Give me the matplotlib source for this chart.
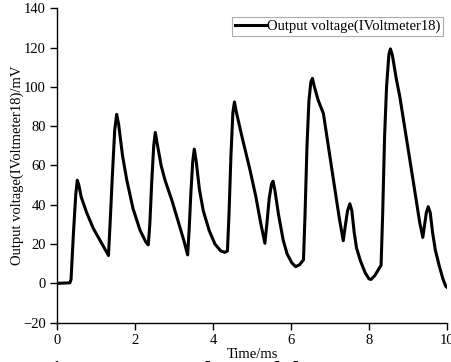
import matplotlib
matplotlib.use("Agg")
import matplotlib.pyplot as plt

plt.rcParams['font.family'] = ['Liberation Serif', 'DejaVu Serif']

time_ms = [0.0, 0.33, 0.36, 0.42, 0.48, 0.52, 0.56, 0.62, 0.76, 0.93, 1.1, 1.32,
           1.36, 1.42, 1.48, 1.53, 1.58, 1.68, 1.79, 1.95, 2.13, 2.28, 2.34,
           2.38, 2.43, 2.48, 2.52, 2.57, 2.67, 2.77, 2.95, 3.1, 3.25, 3.35,
           3.39, 3.43, 3.48, 3.52, 3.57, 3.65, 3.75, 3.9, 4.05, 4.2, 4.3, 4.37,
           4.41, 4.46, 4.51, 4.55, 4.6, 4.75, 4.95, 5.1, 5.22, 5.33,
           5.38, 5.44, 5.5, 5.54, 5.59, 5.68, 5.8, 5.9, 6.02, 6.12, 6.22, 6.32,
           6.36, 6.41, 6.46, 6.51, 6.55, 6.6, 6.7, 6.83, 7.09, 7.24, 7.34,
           7.39, 7.45, 7.51, 7.56, 7.62, 7.68, 7.78, 7.9, 8.0, 8.05, 8.15, 8.31,
           8.35, 8.4, 8.45, 8.51, 8.55, 8.6, 8.7, 8.79, 8.95, 9.13, 9.3, 9.38,
           9.42, 9.47, 9.52, 9.57, 9.63, 9.7, 9.8, 9.9, 9.97, 10.0]
voltage_mv = [0.0, 0.3, 2.0, 25.0, 45.0, 52.5, 50.0, 44.0, 36.0, 28.0, 22.0, 14.2,
              30.0, 55.0, 78.0, 86.0, 81.0, 65.0, 52.5, 38.0, 27.0, 21.0, 19.6,
              30.0, 52.0, 70.0, 76.8, 71.0, 60.0, 52.5, 42.0, 32.0, 22.0, 14.5,
              28.0, 45.0, 62.0, 68.3, 62.0, 48.0, 37.0, 27.0, 20.0, 16.5, 15.8, 16.5,
              35.0, 65.0, 87.0, 92.3, 87.0, 74.0, 57.6, 44.0, 31.0, 20.4,
              30.0, 43.0, 50.5, 52.0, 47.0, 35.0, 22.0, 15.0, 10.5, 8.5, 9.5, 12.0,
              35.0, 70.0, 93.0, 102.5, 104.3, 100.0, 93.0, 86.5, 52.5, 33.0, 21.7,
              29.0, 37.0, 40.5, 37.0, 26.0, 18.0, 11.5, 5.5, 2.3, 2.0, 4.0, 9.3,
              35.0, 75.0, 100.0, 116.5, 119.3, 116.0, 104.0, 95.0, 75.0, 52.5, 31.0, 23.4,
              29.0, 36.0, 39.0, 36.0, 26.0, 17.0, 9.0, 2.0, -1.5, -2.0]

xticks = [0, 2, 4, 6, 8, 10]
yticks = [-20, 0, 20, 40, 60, 80, 100, 120, 140]

fig = plt.figure(figsize=(4.52, 3.62), dpi=100)
ax = fig.add_axes([57 / 452, 1 - 322.7 / 362, 390 / 452, (322.7 - 8.2) / 362])

ax.plot(time_ms, voltage_mv, color='black', lw=2.2, solid_joinstyle='round',
        label='Output voltage(IVoltmeter18)')

ax.set_xlim(0, 10)
ax.set_ylim(-20, 140)
ax.set_xticks(xticks)
ax.set_yticks(yticks)
ax.spines['top'].set_visible(False)
ax.spines['right'].set_visible(False)
for s in ('left', 'bottom'):
    ax.spines[s].set_linewidth(1.0)
ax.tick_params(direction='out', length=5, width=1.0, labelsize=10.5, pad=3)
ax.set_xlabel('Time/ms', fontsize=10.5, labelpad=1)
ax.set_ylabel('Output voltage(IVoltmeter18)/mV', fontsize=10.5)
ax.yaxis.set_label_coords(-(57 - 24.5) / 390, 0.5)

leg = ax.legend(loc='upper right', bbox_to_anchor=(0.9897, 0.972), fontsize=10.5,
                frameon=True, fancybox=False, handlelength=2.2, handletextpad=0.0,
                borderpad=0.2, borderaxespad=0.0)
leg.get_frame().set_edgecolor('#999999')
leg.get_frame().set_linewidth(0.8)

fig.text(0.47, 1 - 360.5 / 362, 'Fig. 4 Output voltage of the sensor', ha='center', va='top',
         fontsize=17, fontweight='bold', color='black')

fig.savefig('out.png', dpi=100)
